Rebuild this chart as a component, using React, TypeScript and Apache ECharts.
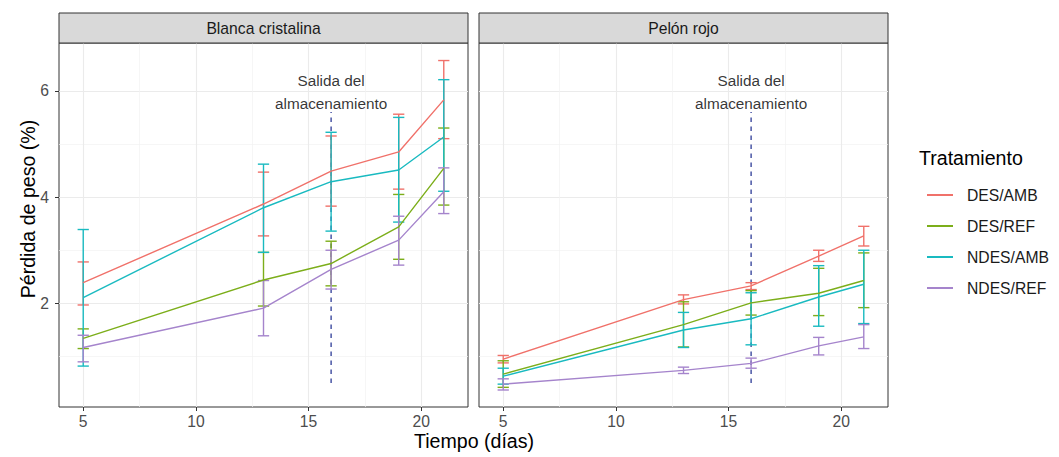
import { useEffect, useRef } from "react";
import * as echarts from "echarts";

// ---- data ----
const days = [5, 13, 16, 19, 21];
const treatments = ["DES/AMB", "DES/REF", "NDES/AMB", "NDES/REF"];
const colors = ["#F0716A", "#7CAE1A", "#19BAC0", "#A584CC"];
const panels = ["Blanca cristalina", "Pelón rojo"];

// Blanca cristalina
const bcDesAmbMean = [2.39, 3.87, 4.49, 4.85, 5.83];
const bcDesAmbLo = [1.97, 3.27, 3.83, 4.15, 5.1];
const bcDesAmbHi = [2.78, 4.47, 5.15, 5.56, 6.57];
const bcDesRefMean = [1.34, 2.44, 2.75, 3.44, 4.54];
const bcDesRefLo = [1.15, 1.95, 2.33, 2.83, 3.85];
const bcDesRefHi = [1.52, 2.96, 3.17, 4.05, 5.3];
const bcNdesAmbMean = [2.11, 3.8, 4.29, 4.51, 5.13];
const bcNdesAmbLo = [0.82, 2.96, 3.36, 3.53, 4.11];
const bcNdesAmbHi = [3.39, 4.62, 5.22, 5.5, 6.21];
const bcNdesRefMean = [1.17, 1.91, 2.64, 3.19, 4.1];
const bcNdesRefLo = [0.9, 1.39, 2.27, 2.72, 3.69];
const bcNdesRefHi = [1.4, 2.43, 3.0, 3.64, 4.55];

// Pelón rojo
const prDesAmbMean = [0.95, 2.07, 2.33, 2.89, 3.27];
const prDesAmbLo = [0.88, 1.99, 2.26, 2.79, 3.08];
const prDesAmbHi = [1.02, 2.16, 2.39, 3.0, 3.45];
const prDesRefMean = [0.67, 1.6, 2.01, 2.19, 2.43];
const prDesRefLo = [0.42, 1.18, 1.78, 1.77, 1.92];
const prDesRefHi = [0.92, 2.03, 2.24, 2.66, 2.95];
const prNdesAmbMean = [0.63, 1.5, 1.71, 2.12, 2.36];
const prNdesAmbLo = [0.48, 1.17, 1.22, 1.57, 1.62];
const prNdesAmbHi = [0.78, 1.83, 2.2, 2.71, 3.0];
const prNdesRefMean = [0.48, 0.74, 0.87, 1.2, 1.37];
const prNdesRefLo = [0.37, 0.68, 0.78, 1.03, 1.15];
const prNdesRefHi = [0.58, 0.8, 0.97, 1.36, 1.6];

const exitDay = 16;
const exitLineRange = [0.5, 5.6];
const exitLabel = "Salida del\nalmacenamiento";
const exitLabelY = 5.985;

const xMajorTicks = [5, 10, 15, 20];
const xMinorTicks = [7.5, 12.5, 17.5];
const yMajorTicks = [2, 4, 6];
const yMinorTicks = [1, 3, 5];

const panelData = [
  {
    mean: [bcDesAmbMean, bcDesRefMean, bcNdesAmbMean, bcNdesRefMean],
    lo: [bcDesAmbLo, bcDesRefLo, bcNdesAmbLo, bcNdesRefLo],
    hi: [bcDesAmbHi, bcDesRefHi, bcNdesAmbHi, bcNdesRefHi],
  },
  {
    mean: [prDesAmbMean, prDesRefMean, prNdesAmbMean, prNdesRefMean],
    lo: [prDesAmbLo, prDesRefLo, prNdesAmbLo, prNdesRefLo],
    hi: [prDesAmbHi, prDesRefHi, prNdesAmbHi, prNdesRefHi],
  },
];

const FONT = "'Liberation Sans', Arial, sans-serif";
const SMALL = 15.7;
const BIG = 19.6;
const X_MIN = 3.925;
const X_MAX = 22.075;
const Y_MIN = 0.05;
const Y_MAX = 6.9;
const CAP_HALF = 0.25;

const gridLefts = [59, 479];
const GRID_TOP = 43;
const GRID_W = 409;
const GRID_H = 364;

export default function App() {
  const ref = useRef<HTMLDivElement>(null);

  useEffect(() => {
    if (!ref.current) return;
    const chart = echarts.init(ref.current, null, { renderer: "svg" });

    const grids = gridLefts.map((left) => ({
      left,
      top: GRID_TOP,
      width: GRID_W,
      height: GRID_H,
      show: true,
      borderColor: "#333333",
      borderWidth: 1,
      backgroundColor: "#ffffff",
      z: 0,
    }));

    const xAxes: any[] = [];
    const yAxes: any[] = [];
    // major axes
    [0, 1].forEach((p) => {
      xAxes.push({
        gridIndex: p,
        type: "value",
        min: X_MIN,
        max: X_MAX,
        position: "bottom",
        axisLine: { show: false },
        axisTick: {
          show: true,
          length: 4,
          customValues: xMajorTicks,
          lineStyle: { color: "#333333", width: 1 },
        },
        axisLabel: {
          customValues: xMajorTicks,
          color: "#4d4d4d",
          fontSize: SMALL,
          fontFamily: FONT,
          margin: 6,
        },
        splitLine: { show: true, lineStyle: { color: "#EBEBEB", width: 1.1 } },
      });
      yAxes.push({
        gridIndex: p,
        type: "value",
        min: Y_MIN,
        max: Y_MAX,
        position: "left",
        axisLine: { show: false },
        axisTick: {
          show: p === 0,
          length: 4,
          customValues: yMajorTicks,
          lineStyle: { color: "#333333", width: 1 },
        },
        axisLabel: {
          show: p === 0,
          customValues: yMajorTicks,
          color: "#4d4d4d",
          fontSize: SMALL,
          fontFamily: FONT,
          margin: 10,
        },
        splitLine: { show: true, lineStyle: { color: "#EBEBEB", width: 1.1 } },
      });
    });
    // minor axes
    [0, 1].forEach((p) => {
      xAxes.push({
        gridIndex: p,
        type: "value",
        min: X_MIN,
        max: X_MAX,
        position: "top",
        axisLine: { show: false },
        axisTick: { show: false, customValues: xMinorTicks },
        axisLabel: { show: false, customValues: xMinorTicks },
        splitLine: { show: true, lineStyle: { color: "#F2F2F2", width: 0.7 } },
      });
      yAxes.push({
        gridIndex: p,
        type: "value",
        min: Y_MIN,
        max: Y_MAX,
        position: "right",
        axisLine: { show: false },
        axisTick: { show: false, customValues: yMinorTicks },
        axisLabel: { show: false, customValues: yMinorTicks },
        splitLine: { show: true, lineStyle: { color: "#F2F2F2", width: 0.7 } },
      });
    });

    const series: any[] = [];
    [0, 1].forEach((p) => {
      // dashed storage-exit line
      series.push({
        type: "line",
        xAxisIndex: p,
        yAxisIndex: p,
        data: exitLineRange.map((v) => [exitDay, v]),
        symbol: "none",
        silent: true,
        z: 3,
        lineStyle: { color: "#2B3A96", width: 1.3, type: [4.5, 4.5] },
      });
      series.push({
        type: "scatter",
        xAxisIndex: p,
        yAxisIndex: p,
        data: [[exitDay, exitLabelY]],
        symbolSize: 0,
        silent: true,
        z: 6,
        label: {
          show: true,
          position: "inside",
          formatter: exitLabel,
          color: "#000000",
          fontSize: 15.3,
          fontFamily: FONT,
          lineHeight: 23,
          align: "center",
        },
      });
      treatments.forEach((name, t) => {
        const color = colors[t];
        const mean = panelData[p].mean[t];
        const lo = panelData[p].lo[t];
        const hi = panelData[p].hi[t];
        series.push({
          type: "line",
          name,
          xAxisIndex: p,
          yAxisIndex: p,
          color,
          symbol: "none",
          z: 4,
          lineStyle: { color, width: 1.4 },
          data: days.map((d, i) => [d, mean[i]]),
        });
        series.push({
          type: "custom",
          name,
          xAxisIndex: p,
          yAxisIndex: p,
          color,
          z: 4,
          encode: { x: 0, y: [1, 2] },
          data: days.map((d, i) => [d, lo[i], hi[i]]),
          renderItem: (_params: any, api: any) => {
            const x = api.value(0);
            const l = api.value(1);
            const h = api.value(2);
            const top = api.coord([x, h]);
            const bot = api.coord([x, l]);
            const xl = api.coord([x - CAP_HALF, h])[0];
            const xr = api.coord([x + CAP_HALF, h])[0];
            const style = { stroke: color, lineWidth: 1.4, fill: null };
            return {
              type: "group",
              children: [
                { type: "line", shape: { x1: top[0], y1: top[1], x2: bot[0], y2: bot[1] }, style },
                { type: "line", shape: { x1: xl, y1: top[1], x2: xr, y2: top[1] }, style },
                { type: "line", shape: { x1: xl, y1: bot[1], x2: xr, y2: bot[1] }, style },
              ],
            };
          },
        });
      });
    });

    const graphic: any[] = [];
    panels.forEach((title, p) => {
      graphic.push({
        type: "rect",
        shape: { x: gridLefts[p], y: 13, width: GRID_W, height: 30 },
        style: { fill: "#D9D9D9", stroke: "#333333", lineWidth: 1 },
        z: 10,
      });
      graphic.push({
        type: "text",
        x: gridLefts[p] + GRID_W / 2,
        y: 28,
        style: {
          text: title,
          fill: "#1a1a1a",
          fontSize: SMALL,
          fontFamily: FONT,
          align: "center",
          verticalAlign: "middle",
        },
        z: 11,
      });
    });
    graphic.push({
      type: "text",
      x: 28,
      y: 209,
      rotation: Math.PI / 2,
      style: {
        text: "Pérdida de peso (%)",
        fill: "#000000",
        fontSize: BIG,
        fontFamily: FONT,
        align: "center",
        verticalAlign: "middle",
      },
    });
    graphic.push({
      type: "text",
      x: 474,
      y: 441,
      style: {
        text: "Tiempo (días)",
        fill: "#000000",
        fontSize: BIG,
        fontFamily: FONT,
        align: "center",
        verticalAlign: "middle",
      },
    });
    graphic.push({
      type: "text",
      x: 919,
      y: 158,
      style: {
        text: "Tratamiento",
        fill: "#000000",
        fontSize: BIG,
        fontFamily: FONT,
        align: "left",
        verticalAlign: "middle",
      },
    });

    chart.setOption({
      animation: false,
      backgroundColor: "#ffffff",
      textStyle: { fontFamily: FONT },
      grid: grids,
      xAxis: xAxes,
      yAxis: yAxes,
      legend: {
        data: treatments.map((name) => ({ name, icon: "rect" })),
        orient: "vertical",
        left: 922,
        top: 181,
        itemWidth: 26,
        itemHeight: 2,
        itemGap: 13,
        selectedMode: false,
        textStyle: {
          fontSize: SMALL,
          color: "#1a1a1a",
          fontFamily: FONT,
          lineHeight: 18,
          padding: [0, 0, 0, 9],
        },
      },
      series,
      graphic,
    });

    return () => chart.dispose();
  }, []);

  return (
    <div
      ref={ref}
      style={{ position: "fixed", left: 0, top: 0, width: 1059, height: 457 }}
    />
  );
}
